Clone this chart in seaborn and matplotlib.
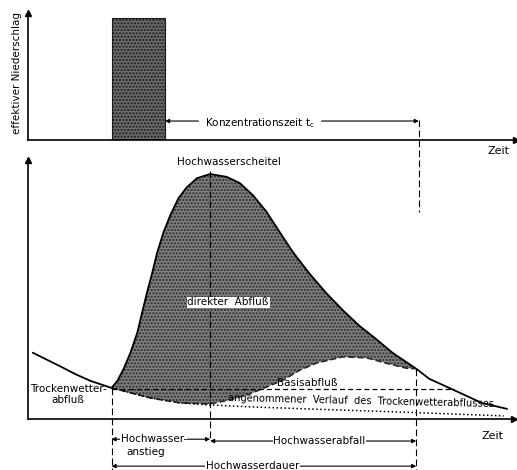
import numpy as np
import matplotlib
matplotlib.use('Agg')
import matplotlib.pyplot as plt
import seaborn as sns

# effective rainfall block (top panel)
rain_t = [17.2, 28.1]
rain_h = 0.96

# direct runoff hydrograph (lower panel), time / discharge
t_main = [1.0, 6.8, 9.8, 12.9, 17.2, 18.4, 19.7, 21.1, 22.5, 23.5, 24.5, 25.6, 26.6, 27.9,
          29.3, 31.0, 32.7, 34.8, 37.5, 40.9, 43.6, 46.3, 49.1, 51.8, 54.5, 58.0, 61.4,
          64.8, 68.2, 71.7, 75.0, 79.9, 82.6, 86.7, 93.4, 98.6]
q_main = [25.6, 20.2, 17.3, 14.7, 12.0, 14.7, 19.4, 25.6, 33.3, 41.1, 48.8, 56.6, 64.3, 72.1,
          78.7, 85.3, 89.5, 93.0, 94.6, 93.5, 91.1, 86.4, 80.0, 72.2, 64.5, 56.0, 48.6,
          42.0, 36.0, 30.8, 25.6, 19.4, 15.5, 12.0, 6.2, 3.9]

# base flow under the flood wave
t_base = [17.2, 25.2, 31.4, 37.5, 41.6, 45.7, 52.5, 55.9, 59.4, 64.8, 69.7, 73.8, 77.9, 79.9]
q_base = [12.0, 8.1, 6.2, 5.8, 7.4, 9.7, 15.0, 18.8, 21.6, 24.0, 23.6, 21.5, 19.6, 19.4]

# assumed dry-weather recession
t_dry = [17.2, 25.2, 31.4, 37.5, 45.7, 55.9, 76.4, 97.9]
q_dry = [12.0, 8.1, 6.2, 5.4, 4.7, 4.0, 2.7, 1.2]

basis_q = 11.5
basis_t = [17.2, 87.7]

t_start, t_peak, t_end = 17.2, 37.5, 79.9

sns.set_style('white')
plt.rcParams['font.family'] = ['DejaVu Sans']
plt.rcParams['text.color'] = 'black'
plt.rcParams['axes.labelcolor'] = 'black'
fs = 7.5

fig = plt.figure(figsize=(5.17, 4.70), dpi=100)
ax1 = fig.add_axes([0.054, 0.702, 0.944, 0.270])
ax2 = fig.add_axes([0.054, 0.1085, 0.940, 0.551])

for ax in (ax1, ax2):
    sns.despine(ax=ax)
    ax.patch.set_alpha(0)
    ax.set_xlim(0, 100)
    ax.set_xticks([])
    ax.set_yticks([])
    for s in ('left', 'bottom'):
        ax.spines[s].set_color('black')
        ax.spines[s].set_linewidth(1.2)
    ax.plot(1, 0, '>k', ms=4, transform=ax.get_yaxis_transform(), clip_on=False)
    ax.plot(0, 1, '^k', ms=4, transform=ax.get_xaxis_transform(), clip_on=False)

# --- top panel ---
ax1.set_ylim(0, 1)
ax1.bar(rain_t[0], rain_h, width=rain_t[1] - rain_t[0], align='edge',
        color='#6a6a6a', edgecolor='#1a1a1a', hatch='.....', linewidth=0.8)
ax1.annotate('', xy=(rain_t[1], 0.15), xytext=(t_end + 0.2, 0.15),
             arrowprops=dict(arrowstyle='<|-|>', color='black', lw=0.8, mutation_scale=6,
                             shrinkA=0, shrinkB=0))
ax1.text(47.5, 0.135, r'Konzentrationszeit t$_\mathrm{c}$', fontsize=fs, ha='center', va='center',
         backgroundcolor='white')
ax1.plot([t_end + 0.2, t_end + 0.2], [0.16, -0.57], color='black', lw=0.8, ls=(0, (6, 3)),
         clip_on=False)
ax1.set_ylabel('effektiver Niederschlag', fontsize=fs)
ax1.yaxis.set_label_coords(-0.013, 0.53)
ax1.text(96.5, -0.09, 'Zeit', fontsize=fs + 0.5, ha='center', va='center')

# --- lower panel ---
ax2.set_ylim(0, 100)
i0 = t_main.index(t_start)
i1 = t_main.index(t_end)
poly_t = t_main[i0:i1 + 1] + t_base[::-1]
poly_q = q_main[i0:i1 + 1] + q_base[::-1]
ax2.fill(poly_t, poly_q, facecolor='#7e7e7e', edgecolor='none', zorder=1)
ax2.fill(poly_t, poly_q, facecolor='none', edgecolor='#2a2a2a', lw=0, hatch='.....', zorder=1)

sns.lineplot(x=t_main, y=q_main, ax=ax2, color='black', lw=1.3, sort=False, zorder=3)
sns.lineplot(x=t_base, y=q_base, ax=ax2, color='#222222', lw=1.1, sort=False,
             linestyle=(0, (4, 2)), zorder=3)
sns.lineplot(x=t_dry, y=q_dry, ax=ax2, color='black', lw=1.1, sort=False,
             linestyle=(0, (1, 1.6)), zorder=3)
ax2.plot(basis_t, [basis_q, basis_q], color='black', lw=0.9, ls=(0, (4, 2.5)), zorder=3)

# vertical marker lines
ax2.plot([t_start, t_start], [q_main[i0], -20.2], color='black', lw=0.8, ls=(0, (6, 3)), clip_on=False)
ax2.plot([t_peak, t_peak], [95.8, -8.5], color='black', lw=0.8, ls=(0, (6, 3)), clip_on=False)
ax2.plot([t_end, t_end], [q_main[i1], -20.2], color='black', lw=0.8, ls=(0, (6, 3)), clip_on=False)

ax2.text(41.4, 99.2, 'Hochwasserscheitel', fontsize=fs, ha='center', va='center')
ax2.text(41.2, 45.0, 'direkter  Abfluß', fontsize=fs, ha='center', va='center',
         bbox=dict(facecolor='white', edgecolor='none', pad=0.6))
ax2.text(8.3, 9.5, 'Trockenwetter-\nabfluß', fontsize=fs, ha='center', va='center', linespacing=1.1)
ax2.text(57.4, basis_q + 0.3, 'Basisabfluß', fontsize=fs, ha='center', va='bottom')
ax2.text(41.2, 4.6, 'angenommener  Verlauf  des  Trockenwetterabflusses', fontsize=fs - 0.4,
         ha='left', va='baseline', rotation=-1.3)
ax2.set_ylabel('Abfluß', fontsize=fs)
ax2.yaxis.set_label_coords(-0.016, 0.53)
ax2.text(95.5, -6.5, 'Zeit', fontsize=fs + 0.5, ha='center', va='center')

# dimension arrows below the axis
dims = [(t_start, t_peak, -7.8), (t_peak, t_end, -8.5), (t_start, t_end, -18.2)]
for a, b, y in dims:
    ax2.annotate('', xy=(a, y), xytext=(b, y), annotation_clip=False,
                 arrowprops=dict(arrowstyle='<|-|>', color='black', lw=0.8, mutation_scale=6,
                                 shrinkA=0, shrinkB=0))
ax2.text(25.9, -7.8, 'Hochwasser-', fontsize=fs, ha='center', va='center',
         bbox=dict(facecolor='white', edgecolor='none', pad=0.3))
ax2.text(24.2, -12.8, 'anstieg', fontsize=fs, ha='center', va='center')
ax2.text(60.0, -8.5, 'Hochwasserabfall', fontsize=fs, ha='center', va='center',
         bbox=dict(facecolor='white', edgecolor='none', pad=0.6))
ax2.text(46.2, -18.2, 'Hochwasserdauer', fontsize=fs, ha='center', va='center',
         bbox=dict(facecolor='white', edgecolor='none', pad=0.6))

fig.savefig('out.png', dpi=100)
